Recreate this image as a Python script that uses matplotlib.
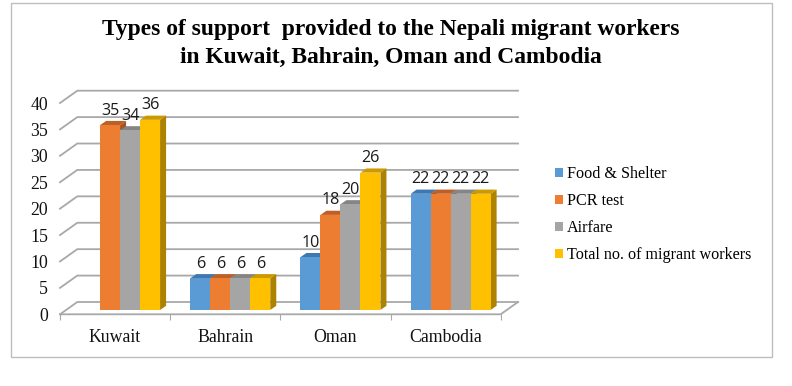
import matplotlib
matplotlib.use("Agg")
import matplotlib.pyplot as plt
from matplotlib.patches import Polygon, Rectangle, Patch
import numpy as np

categories = ["Kuwait", "Bahrain", "Oman", "Cambodia"]
series_names = ["Food & Shelter", "PCR test", "Airfare", "Total no. of migrant workers"]
food_shelter = [0, 6, 10, 22]
pcr_test = [35, 6, 18, 22]
airfare = [34, 6, 20, 22]
total_workers = [36, 6, 26, 22]
title_lines = ["Types of support  provided to the Nepali migrant workers",
               "in Kuwait, Bahrain, Oman and Cambodia"]

series = [food_shelter, pcr_test, airfare, total_workers]
front = ["#5B9BD5", "#ED7D31", "#A5A5A5", "#FFC000"]
top = ["#3F78B0", "#BF5F28", "#858585", "#CC9A00"]
side = ["#3A6C9C", "#A85322", "#707070", "#AD8200"]
grid = "#A8A8A8"
SERIF = "Liberation Serif"

W, H = 792, 386
fig = plt.figure(figsize=(W / 100, H / 100), dpi=100, facecolor="white")
fig.add_artist(Rectangle((10.5 / W, 1 - 356.5 / H), 761.5 / W, 353.5 / H, transform=fig.transFigure,
                         fill=False, ec="#BDBDBD", lw=1.0))
for line, yp in zip(title_lines, [30, 57.5]):
    fig.text(390.5 / W, 1 - yp / H, line, ha="center", va="center", family=SERIF,
             fontweight="bold", fontsize=16.9, color="black")

L, R, B, T = 60.0, 500.7, 314.3, 103.0
ax = fig.add_axes([L / W, 1 - B / H, (R - L) / W, (B - T) / H])
ax.set_xlim(-0.5, 3.5)
ax.set_ylim(0, 40)
ax.patch.set_alpha(0)
for s in ax.spines.values():
    s.set_visible(False)

ux = (R - L) / 4
uy = (B - T) / 40
def dxp(p): return p / ux
def dyp(p): return p / uy

wall_x, wall_y = dxp(17.3), dyp(12.3)
bar_x, bar_y = dxp(5.0), dyp(4.3)
depth_x, depth_y = dxp(6.0), dyp(4.2)
bw = dxp(20.0)

for v in range(0, 45, 5):
    ax.plot([-0.5, -0.5 + wall_x, 3.5 + wall_x], [v, v + wall_y, v + wall_y], color=grid, lw=1.3,
            clip_on=False, zorder=1, solid_joinstyle="miter")
ax.plot([-0.5, 3.5, 3.5 + wall_x], [0, 0, wall_y], color=grid, lw=1.3, clip_on=False, zorder=1)

for i, (vals, f, t, sd) in enumerate(zip(series, front, top, side)):
    off = (i - 1.5) * bw
    for c, v in enumerate(vals):
        if v == 0:
            continue
        x0 = c + off - bw / 2 + bar_x
        x1 = x0 + bw
        y0, y1 = bar_y, bar_y + v
        z = 3 + i * 0.1
        ax.add_patch(Polygon([(x1, y0), (x1 + depth_x, y0 + depth_y), (x1 + depth_x, y1 + depth_y), (x1, y1)],
                             closed=True, fc=sd, ec="none", zorder=z, clip_on=False))
        ax.add_patch(Polygon([(x0, y1), (x0 + depth_x, y1 + depth_y), (x1 + depth_x, y1 + depth_y), (x1, y1)],
                             closed=True, fc=t, ec="none", zorder=z, clip_on=False))
        ax.bar(c + off + bar_x, v, width=bw, bottom=bar_y, color=f, zorder=z + 0.01, clip_on=False)
        ax.annotate(str(v), xy=(c + off + bar_x, y1), xytext=(0, 14.5 * 0.72), textcoords="offset points",
                    ha="center", va="center", family="Open Sans", fontsize=11.6, color="#1a1a1a",
                    zorder=6, annotation_clip=False)

ax.set_yticks(range(0, 45, 5))
ax.tick_params(axis="y", length=0, pad=8.5)
ax.set_xticks(range(4))
ax.set_xticklabels(categories)
ax.tick_params(axis="x", length=0, pad=10.5)
ax.set_xticks(np.arange(-0.5, 4), minor=True)
ax.tick_params(axis="x", which="minor", length=4, color=grid, width=0.8)
for lab in ax.get_xticklabels() + ax.get_yticklabels():
    lab.set_family(SERIF)
    lab.set_fontsize(12.8)
    lab.set_color("#111111")

handles = [Patch(facecolor=c, label=n) for c, n in zip(front, series_names)]
fig.legend(handles=handles, loc="center left", bbox_to_anchor=(555 / W, 1 - 214.5 / H), frameon=False,
           prop={"family": SERIF, "size": 11.6}, handlelength=0.5, handleheight=0.5,
           handletextpad=0.25, labelspacing=0.69, borderpad=0, borderaxespad=0)

fig.savefig("out.png", dpi=100)
